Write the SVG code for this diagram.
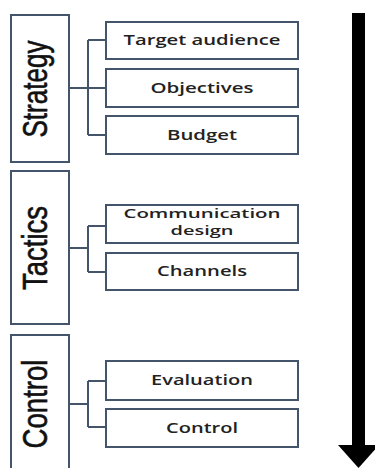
<svg xmlns="http://www.w3.org/2000/svg" width="375" height="468" viewBox="0 0 375 468">
<style>
.stage{fill:#fff;stroke:#44546A;stroke-width:2}
.box{fill:#fff;stroke:#44546A;stroke-width:2}
.big{font-family:"Liberation Sans Narrow","Liberation Sans",sans-serif;font-size:35px;fill:#111;stroke:#111;stroke-width:0.6}
.lbl{font-family:"Open Sans","Liberation Sans",sans-serif;font-weight:600;font-size:14px;fill:#222;text-anchor:middle}
.sm{font-size:12.5px}
.conn{fill:none;stroke:#44546A;stroke-width:2}
</style>
<rect width="375" height="468" fill="#fff"/>
<g id="connectors">
<path class="conn" d="M70,88 H88 M88,40 V135 M88,40 H106 M88,88 H106 M88,135 H106"/>
<path class="conn" d="M70,248 H88 M88,226 V272 M88,226 H106 M88,272 H106"/>
<path class="conn" d="M70,404 H88 M88,381 V427 M88,381 H106 M88,427 H106"/>
</g>
<g id="strategy">
<rect class="stage" x="11" y="15" width="58" height="147"/>
<text class="big" transform="translate(47,89) rotate(-90)" text-anchor="middle" textLength="97" lengthAdjust="spacingAndGlyphs">Strategy</text>
</g>
<g id="tactics">
<rect class="stage" x="11" y="171" width="58" height="153"/>
<text class="big" transform="translate(47,248) rotate(-90)" text-anchor="middle" textLength="84" lengthAdjust="spacingAndGlyphs">Tactics</text>
</g>
<g id="control-stage">
<rect class="stage" x="11" y="335" width="58" height="140"/>
<text class="big" transform="translate(47,404) rotate(-90)" text-anchor="middle" textLength="89" lengthAdjust="spacingAndGlyphs">Control</text>
</g>
<g id="target-audience">
<rect class="box" x="106" y="22" width="192" height="37"/>
<text class="lbl" x="202" y="45" textLength="157" lengthAdjust="spacingAndGlyphs">Target audience</text>
</g>
<g id="objectives">
<rect class="box" x="106" y="69" width="192" height="38"/>
<text class="lbl" x="202" y="93" textLength="103" lengthAdjust="spacingAndGlyphs">Objectives</text>
</g>
<g id="budget">
<rect class="box" x="106" y="116" width="192" height="38"/>
<text class="lbl" x="202" y="140" textLength="70" lengthAdjust="spacingAndGlyphs">Budget</text>
</g>
<g id="communication-design">
<rect class="box" x="106" y="205" width="192" height="38"/>
<text class="lbl sm" x="202" y="218" textLength="157" lengthAdjust="spacingAndGlyphs">Communication</text>
<text class="lbl sm" x="202" y="235" textLength="63" lengthAdjust="spacingAndGlyphs">design</text>
</g>
<g id="channels">
<rect class="box" x="106" y="253" width="192" height="37"/>
<text class="lbl" x="202" y="276" textLength="90" lengthAdjust="spacingAndGlyphs">Channels</text>
</g>
<g id="evaluation">
<rect class="box" x="106" y="361" width="192" height="39"/>
<text class="lbl" x="202" y="385" textLength="102" lengthAdjust="spacingAndGlyphs">Evaluation</text>
</g>
<g id="control">
<rect class="box" x="106" y="409" width="192" height="38"/>
<text class="lbl" x="202" y="433" textLength="72" lengthAdjust="spacingAndGlyphs">Control</text>
</g>
<g id="arrow">
<rect x="352" y="13" width="13" height="434" fill="#000"/>
<polygon points="338,445 379,445 358.5,468" fill="#000"/>
</g>
</svg>
